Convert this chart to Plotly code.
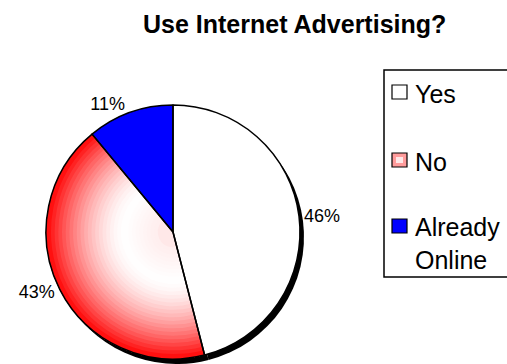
import plotly.graph_objects as go

# ---- data ----
labels = ["Yes", "No", "Already Online"]
legend_text = ["Yes", "No", "Already<br>Online"]
values = [46, 43, 11]
title_text = "Use Internet Advertising?"

# ---- style ----
W, H = 507, 364
FONT = "Liberation Sans, Arial, sans-serif"
CLEAR = "rgba(0,0,0,0)"

def px(x):
    return x / W

def py(y):
    return 1 - y / H

# pie area in pixels (square)
cx, cy, R = 173, 232, 127
dom = dict(x=[px(cx - R), px(cx + R)], y=[py(cy + R), py(cy - R)])
sh = 4
shadow_dom = dict(x=[px(cx - R + sh), px(cx + R + sh)], y=[py(cy + R + sh + 1), py(cy - R + sh + 1)])

common = dict(labels=labels, values=values, sort=False, direction="clockwise",
              rotation=0, showlegend=False, hoverinfo="skip")

fig = go.Figure()

# shadow
fig.add_trace(go.Pie(**common, domain=shadow_dom, textinfo="none",
                     marker=dict(colors=["#000000"] * 3, line=dict(width=0))))
# base pie
fig.add_trace(go.Pie(**common, domain=dom, textinfo="none",
                     marker=dict(colors=["#FFFFFF", "rgb(255,232,232)", "#0000FF"], line=dict(width=0))))

# smooth radial gradient rings for the "No" slice (style only)
n_rings = 30
start = 0.12
span = 0.99 - start
for k in range(n_rings):
    hole = start + span * k / n_rings
    t = hole + span / n_rings / 2
    if t < 0.38:
        w = 1.0 - 0.10 * (0.38 - t) / 0.38
    else:
        w = 1.0 - ((t - 0.38) / 0.62) ** 1.6
    w = max(0.0, min(1.0, w))
    g = int(round(255 * w))
    col = f"rgb(255,{g},{g})"
    fig.add_trace(go.Pie(**common, domain=dom, hole=hole, textinfo="none",
                         marker=dict(colors=[CLEAR, col, CLEAR], line=dict(width=0))))

# outline + percentage labels
fig.add_trace(go.Pie(**common, domain=dom, textinfo="percent", textposition="outside",
                     texttemplate="%{percent:.0%}",
                     outsidetextfont=dict(family=FONT, size=18, color="#000000"),
                     marker=dict(colors=[CLEAR] * 3, line=dict(color="#000000", width=1.5))))

shapes = []
annotations = []

# title
annotations.append(dict(text="<b>" + title_text + "</b>", x=px(294), y=py(24),
                        xref="paper", yref="paper", xanchor="center", yanchor="middle",
                        showarrow=False, font=dict(family=FONT, size=25, color="#000000")))

# legend box
shapes.append(dict(type="rect", xref="paper", yref="paper",
                   x0=px(384), x1=px(515), y0=py(277), y1=py(70),
                   line=dict(color="#000000", width=1.5), fillcolor="#FFFFFF", layer="below"))
legend_fill = ["#FFFFFF", "#FF9C9C", "#0000FF"]
sq_y = [92, 160, 226]
txt_y = [94, 162, 244]
for i, lab in enumerate(legend_text):
    shapes.append(dict(type="rect", xref="paper", yref="paper",
                       x0=px(392), x1=px(407), y0=py(sq_y[i] + 7), y1=py(sq_y[i] - 7),
                       line=dict(color="#000000", width=1.2), fillcolor=legend_fill[i]))
    if i == 1:
        shapes.append(dict(type="rect", xref="paper", yref="paper",
                           x0=px(396), x1=px(403), y0=py(sq_y[i] + 3), y1=py(sq_y[i] - 3),
                           line=dict(width=0), fillcolor="#FFE8E8"))
    annotations.append(dict(text=lab, x=px(413), y=py(txt_y[i]), xref="paper", yref="paper",
                            xanchor="left", yanchor="middle", align="left", showarrow=False,
                            font=dict(family=FONT, size=25, color="#000000")))

fig.update_layout(width=W, height=H, margin=dict(l=0, r=0, t=0, b=0),
                  paper_bgcolor="#FFFFFF", plot_bgcolor="#FFFFFF",
                  shapes=shapes, annotations=annotations)

fig.write_html("out.html")
